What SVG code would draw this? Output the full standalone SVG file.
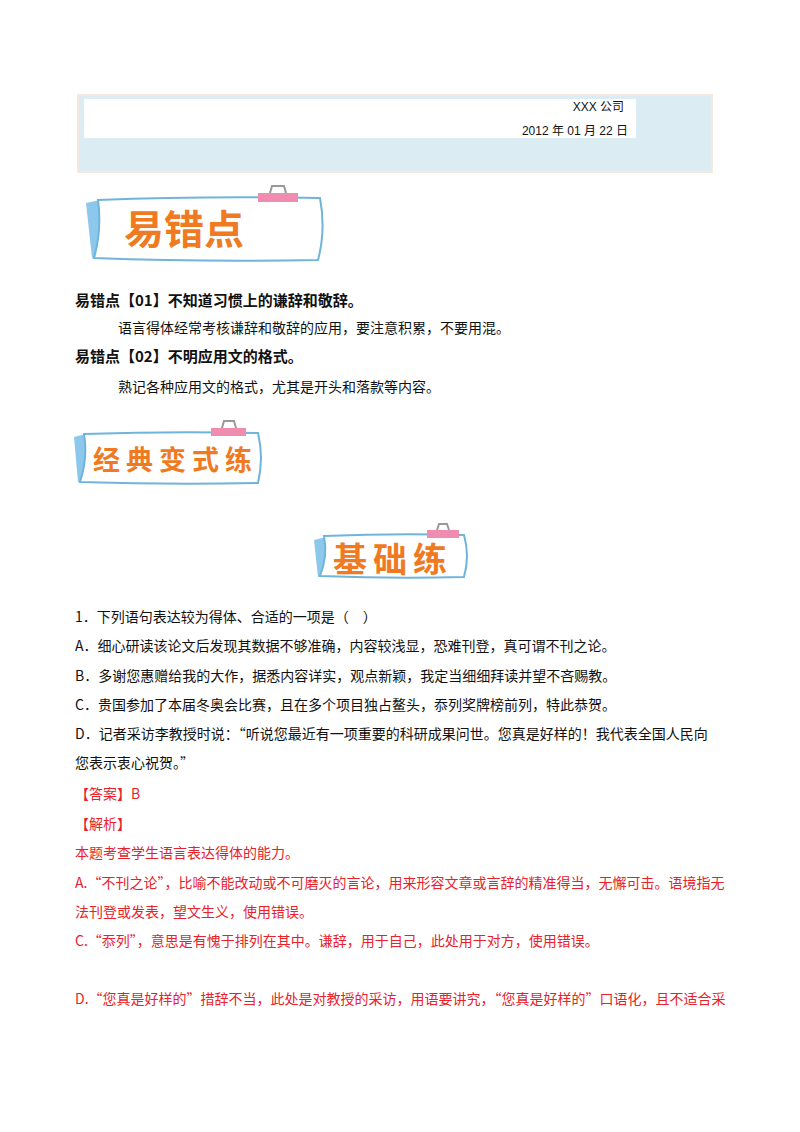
<svg xmlns="http://www.w3.org/2000/svg" width="800" height="1132" viewBox="0 0 800 1132">
<style>
text{font-family:"Noto Sans CJK SC","Liberation Serif",serif;font-size:14px;fill:#111}
.b{font-weight:bold;font-size:15px}
.r{fill:#e8222a}
.h{font-family:"Noto Sans CJK SC",sans-serif;fill:#f07a22;font-weight:bold}
.s{font-family:"Liberation Sans","Noto Sans CJK SC",sans-serif;font-size:12px}
.card{fill:#fff;stroke:#6fb4da;stroke-width:2}
.tab{fill:#8cc8ec}
.clip{fill:#f08cb0}
.ring{fill:none;stroke:#999;stroke-width:2}
</style>
<rect width="800" height="1132" fill="#fff"/>
<g id="header">
<rect x="78" y="95" width="634" height="77" fill="#dbedf3" stroke="#f6e8de" stroke-width="2"/>
<rect x="84" y="99" width="552" height="39" fill="#fff"/>
<text class="s" x="624" y="111" text-anchor="end">XXX 公司</text>
<text class="s" x="628" y="135" text-anchor="end">2012 年 01 月 22 日</text>
</g>
<g id="banner1">
<path class="tab" d="M86 203 L100 200 L100 255 L92 258 Z"/>
<path class="card" d="M98 200 Q200 196 320 198 Q326 230 318 260 Q200 262 94 258 Q102 230 98 200 Z"/>
<rect class="clip" x="258" y="193" width="40" height="9"/>
<path class="ring" d="M270 193 L272 186 L284 186 L286 193"/>
<text class="h" x="124" y="244" style="font-size:40px">易错点</text>
</g>
<g id="text1">
<text class="b" x="75" y="306">易错点【01】不知道习惯上的谦辞和敬辞。</text>
<text x="118" y="333">语言得体经常考核谦辞和敬辞的应用，要注意积累，不要用混。</text>
<text class="b" x="75" y="362">易错点【02】不明应用文的格式。</text>
<text x="118" y="392">熟记各种应用文的格式，尤其是开头和落款等内容。</text>
</g>
<g id="banner2">
<path class="tab" d="M74 437 L86 434 L86 480 L78 482 Z"/>
<path class="card" d="M84 434 Q170 431 258 433 Q264 458 258 483 Q170 485 80 482 Q88 458 84 434 Z"/>
<rect class="clip" x="211" y="428" width="35" height="8"/>
<path class="ring" d="M222 428 L224 421 L234 421 L236 428"/>
<text class="h" x="93" y="470" style="font-size:27px;letter-spacing:6px">经典变式练</text>
</g>
<g id="banner3">
<path class="tab" d="M314 540 L326 537 L326 574 L318 577 Z"/>
<path class="card" d="M324 536 Q395 533 464 535 Q470 556 464 577 Q395 579 320 576 Q328 556 324 536 Z"/>
<rect class="clip" x="427" y="530" width="32" height="8"/>
<path class="ring" d="M437 530 L439 524 L447 524 L449 530"/>
<text class="h" x="333" y="572" style="font-size:34px;letter-spacing:6px">基础练</text>
</g>
<g id="question">
<text x="75" y="622">1．下列语句表达较为得体、合适的一项是（　）</text>
<text x="75" y="651">A．细心研读该论文后发现其数据不够准确，内容较浅显，恐难刊登，真可谓不刊之论。</text>
<text x="75" y="681">B．多谢您惠赠给我的大作，据悉内容详实，观点新颖，我定当细细拜读并望不吝赐教。</text>
<text x="75" y="710">C．贵国参加了本届冬奥会比赛，且在多个项目独占鳌头，忝列奖牌榜前列，特此恭贺。</text>
<text x="75" y="739">D．记者采访李教授时说：“听说您最近有一项重要的科研成果问世。您真是好样的！我代表全国人民向</text>
<text x="75" y="768">您表示衷心祝贺。”</text>
<text class="r" x="75" y="799">【答案】B</text>
<text class="r" x="75" y="829">【解析】</text>
<text class="r" x="75" y="858">本题考查学生语言表达得体的能力。</text>
<text class="r" x="75" y="888">A.“不刊之论”，比喻不能改动或不可磨灭的言论，用来形容文章或言辞的精准得当，无懈可击。语境指无</text>
<text class="r" x="75" y="917">法刊登或发表，望文生义，使用错误。</text>
<text class="r" x="75" y="946">C.“忝列”，意思是有愧于排列在其中。谦辞，用于自己，此处用于对方，使用错误。</text>
<text class="r" x="75" y="1004">D.“您真是好样的”措辞不当，此处是对教授的采访，用语要讲究，“您真是好样的”口语化，且不适合采</text>
</g>
</svg>
